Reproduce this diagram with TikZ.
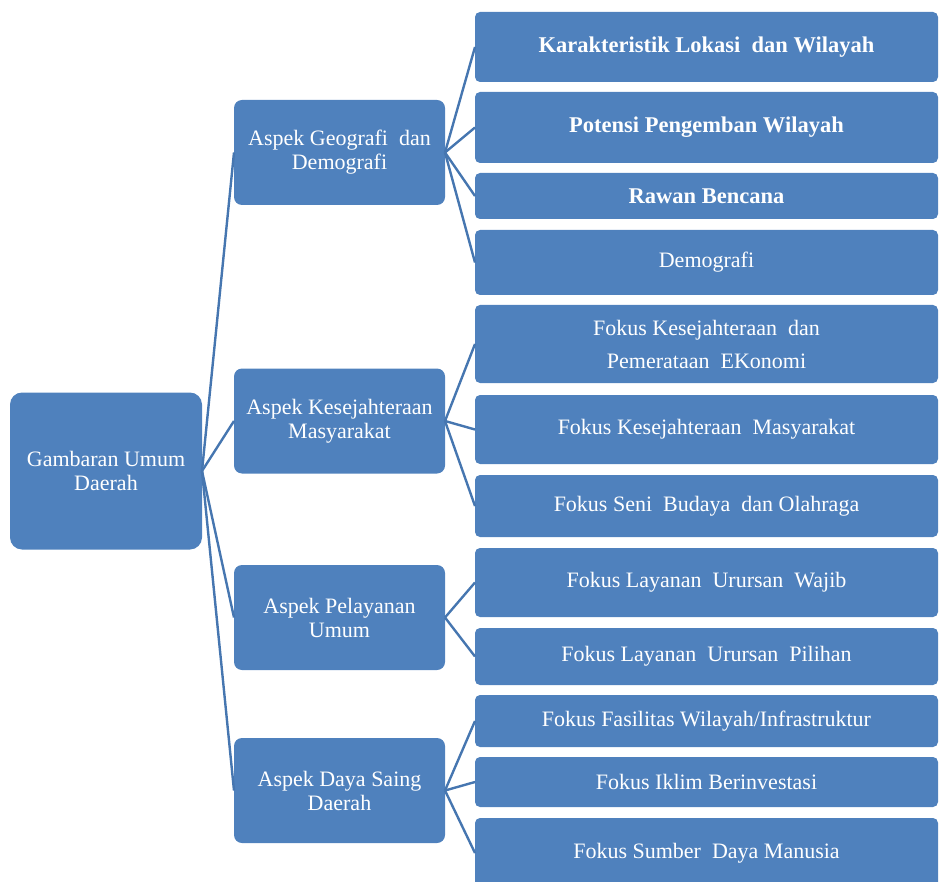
\documentclass[tikz,border=0pt]{standalone}
\usepackage{fontspec}
\setmainfont{Liberation Serif}
\usetikzlibrary{positioning}

\definecolor{boxblue}{HTML}{4F81BD}
\definecolor{lineblue}{HTML}{4676B0}

\tikzset{
  box/.style={fill=boxblue, text=white, align=center, inner sep=2pt,
              outer sep=0pt, font=\fontsize{22}{24}\selectfont},
  rootbox/.style={box, rounded corners=12pt, minimum width=192pt, minimum height=157pt},
  aspect/.style={box, rounded corners=8pt, minimum width=211pt, minimum height=105pt},
  fokus/.style={box, rounded corners=5pt, minimum width=463pt},
  boldfokus/.style={fokus, font=\fontsize{22.5}{24}\selectfont\bfseries},
  link/.style={draw=lineblue, line width=2.4pt}
}

\begin{document}
\begin{tikzpicture}[x=1pt, y=-1pt]
   \useasboundingbox (0,0) rectangle (939,882);
   \clip (0,0) rectangle (939,882);

   \node (G) [rootbox] at (106,471) {Gambaran Umum\\Daerah};

   \node (A1) [aspect] at (339.5,152.5) {Aspek Geografi\ \ dan\\Demografi};
   \node (A2) [aspect] at (339.5,421)   {Aspek Kesejahteraan\\Masyarakat};
   \node (A3) [aspect] at (339.5,617.5) {Aspek Pelayanan\\Umum};
   \node (A4) [aspect] at (339.5,790.5) {Aspek Daya Saing\\Daerah};

   \node (K1) [boldfokus, minimum height=70pt, anchor=north west] at (475,12)
     {Karakteristik Lokasi\ \ dan Wilayah};
   \node (K2) [boldfokus, minimum height=71pt, below=10pt of K1] {Potensi Pengemban Wilayah};
   \node (K3) [boldfokus, minimum height=46pt, below=10pt of K2] {Rawan Bencana};
   \node (K4) [fokus, minimum height=65pt, below=11pt of K3] {Demografi};
   \node (S1) [fokus, minimum height=78pt, below=10pt of K4, font=\fontsize{22}{33}\selectfont]
     {Fokus Kesejahteraan\ \ dan\\Pemerataan\ \ EKonomi};
   \node (S2) [fokus, minimum height=69pt, below=12pt of S1] {Fokus Kesejahteraan\ \ Masyarakat};
   \node (S3) [fokus, minimum height=62pt, below=11pt of S2] {Fokus Seni\ \ Budaya\ \ dan Olahraga};
   \node (L1) [fokus, minimum height=69pt, below=11pt of S3] {Fokus Layanan\ \ Urursan\ \ Wajib};
   \node (L2) [fokus, minimum height=57pt, below=11pt of L1] {Fokus Layanan\ \ Urursan\ \ Pilihan};
   \node (D1) [fokus, minimum height=52pt, below=10pt of L2] {Fokus Fasilitas Wilayah/Infrastruktur};
   \node (D2) [fokus, minimum height=50pt, below=10pt of D1] {Fokus Iklim Berinvestasi};
   \node (D3) [fokus, minimum height=70pt, below=11pt of D2] {Fokus Sumber\ \ Daya Manusia};

   \path[link]
     (G.east)  edge (A1.west)
               edge (A2.west)
               edge (A3.west)
               edge (A4.west)
     (A1.east) edge (K1.west)
               edge (K2.west)
               edge (K3.west)
               edge (K4.west)
     (A2.east) edge (S1.west)
               edge (S2.west)
               edge (S3.west)
     (A3.east) edge (L1.west)
               edge (L2.west)
     (A4.east) edge (D1.west)
               edge (D2.west)
               edge (D3.west);
\end{tikzpicture}
\end{document}
